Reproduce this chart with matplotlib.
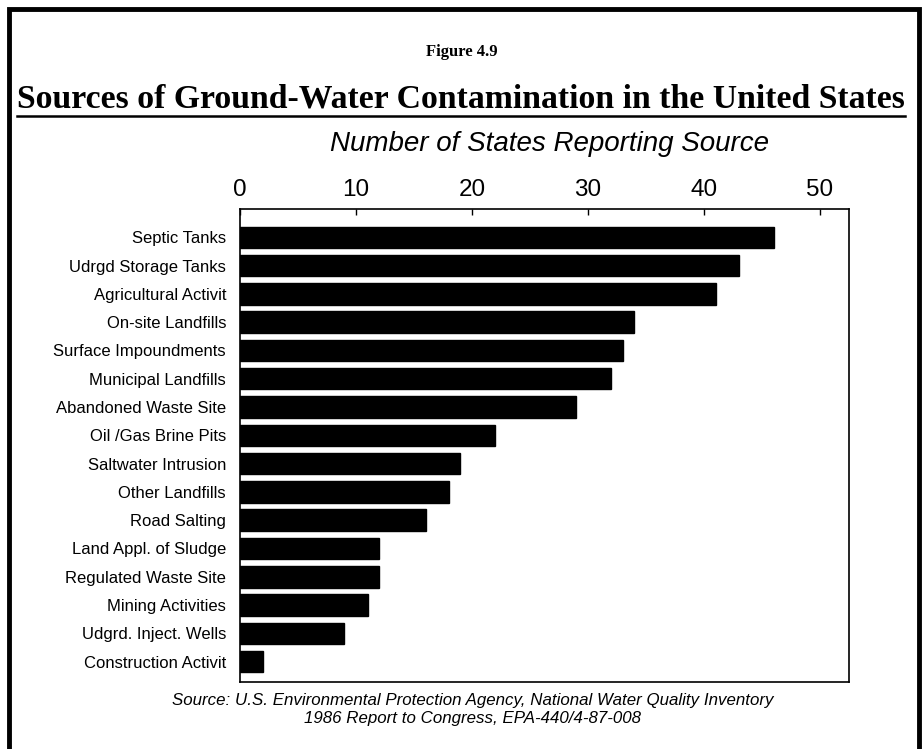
import matplotlib
matplotlib.use("Agg")
import matplotlib.pyplot as plt
from matplotlib.patches import Rectangle
from matplotlib.lines import Line2D

categories = ["Septic Tanks", "Udrgd Storage Tanks", "Agricultural Activit",
              "On-site Landfills", "Surface Impoundments", "Municipal Landfills",
              "Abandoned Waste Site", "Oil /Gas Brine Pits", "Saltwater Intrusion",
              "Other Landfills", "Road Salting", "Land Appl. of Sludge",
              "Regulated Waste Site", "Mining Activities", "Udgrd. Inject. Wells",
              "Construction Activit"]
values = [46, 43, 41, 34, 33, 32, 29, 22, 19, 18, 16, 12, 12, 11, 9, 2]
tick_values = [0, 10, 20, 30, 40, 50]

W, H = 924, 749
fig = plt.figure(figsize=(W / 100, H / 100), dpi=100)
fig.patch.set_facecolor("white")

# axes box
left, right, top, bottom = 240, 849, 209, 682
ax = fig.add_axes([left / W, 1 - bottom / H, (right - left) / W, (bottom - top) / H])
ypos = list(range(len(categories)))
ax.barh(ypos, values, height=0.76, color="black", edgecolor="black")
ax.set_xlim(0, 52.5)
ax.set_ylim(len(categories) - 1 + 0.72, -1.0)
ax.set_yticks(ypos)
ax.set_yticklabels(categories, fontfamily="Liberation Sans", fontsize=12)
ax.tick_params(axis="y", length=0, pad=10)
ax.xaxis.tick_top()
ax.set_xticks(tick_values)
ax.set_xticklabels([str(v) for v in tick_values], fontfamily="Liberation Sans", fontsize=17.5)
ax.tick_params(axis="x", direction="in", length=4, width=1, pad=6)
for s in ax.spines.values():
    s.set_linewidth(1.2)
    s.set_color("black")

# texts
fig.text(462 / W, 1 - 52 / H, "Figure 4.9", ha="center", va="center",
         fontfamily="Liberation Serif", fontweight="bold", fontsize=12)
title = fig.text(461 / W, 1 - 99 / H,
                 "Sources of Ground-Water Contamination in the United States",
                 ha="center", va="center", fontfamily="Liberation Serif",
                 fontweight="bold", fontsize=24.3)
fig.text(550 / W, 1 - 144 / H, "Number of States Reporting Source", ha="center",
         va="center", fontfamily="Liberation Sans", style="italic", fontsize=20)
fig.text(473 / W, 1 - 700 / H,
         "Source: U.S. Environmental Protection Agency, National Water Quality Inventory",
         ha="center", va="center", fontfamily="Liberation Sans", style="italic", fontsize=12.2)
fig.text(473 / W, 1 - 718 / H, "1986 Report to Congress, EPA-440/4-87-008",
         ha="center", va="center", fontfamily="Liberation Sans", style="italic", fontsize=12.2)

# underline for title
fig.canvas.draw()
bb = title.get_window_extent(renderer=fig.canvas.get_renderer())
uy = (bb.y0 - 1) / H
fig.add_artist(Line2D([bb.x0 / W, bb.x1 / W], [uy, uy], color="black", linewidth=1.8))

# frame
fig.add_artist(Rectangle((9 / W, -0.05), (919 - 9) / W, 1.05 - 9 / H,
                         fill=False, edgecolor="black", linewidth=3.5,
                         transform=fig.transFigure))

fig.savefig("out.png", dpi=100, facecolor="white")
